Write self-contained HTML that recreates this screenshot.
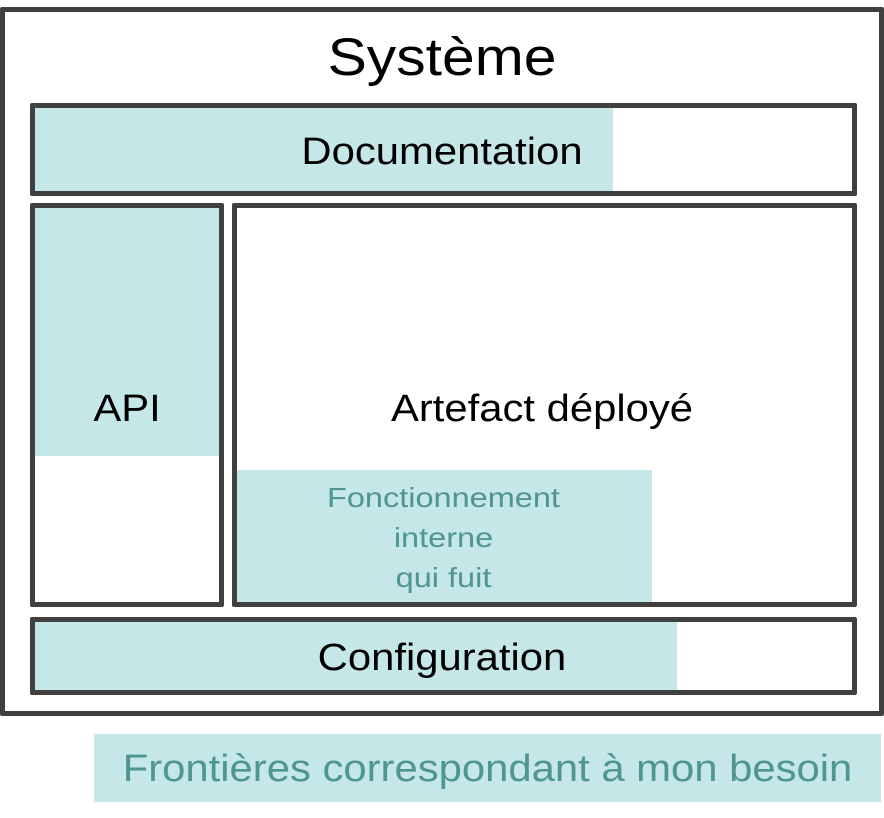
<!DOCTYPE html>
<html><head><meta charset="utf-8"><style>
body{margin:0;width:884px;height:818px;background:#fff;position:relative;overflow:hidden;font-family:"Liberation Sans",sans-serif}
.b{position:absolute;box-sizing:border-box;border:5px solid #404040;border-radius:2px}
.f{position:absolute;background:#c5e7e7}
.t{position:absolute;text-align:center;white-space:nowrap;transform:scaleX(1.1)}
</style></head><body>
<div class="b" style="left:0;top:7px;width:884px;height:709px"></div>
<div class="t" style="left:0;width:884px;top:26px;font-size:53px;line-height:64px;transform:scaleX(1.11)">Système</div>

<div class="f" style="left:35px;top:108px;width:578px;height:83px"></div>
<div class="b" style="left:30px;top:103px;width:827px;height:93px"></div>
<div class="t" style="left:30px;width:824px;top:129px;font-size:38px;line-height:46px">Documentation</div>

<div class="f" style="left:35px;top:208px;width:184px;height:248px"></div>
<div class="b" style="left:30px;top:203px;width:194px;height:404px"></div>
<div class="t" style="left:30px;width:194px;top:386px;font-size:38px;line-height:46px">API</div>

<div class="f" style="left:237px;top:470px;width:415px;height:134px"></div>
<div class="b" style="left:232px;top:203px;width:625px;height:404px"></div>
<div class="t" style="left:232px;width:620px;top:386px;font-size:38px;line-height:46px">Artefact déployé</div>
<div class="t" style="left:237px;width:413px;top:478px;font-size:28px;line-height:40px;color:#4f9590;transform:scaleX(1.16)">Fonctionnement<br>interne<br>qui fuit</div>

<div class="f" style="left:35px;top:622px;width:642px;height:68px"></div>
<div class="b" style="left:30px;top:617px;width:827px;height:78px"></div>
<div class="t" style="left:30px;width:824px;top:635px;font-size:38px;line-height:46px">Configuration</div>

<div class="f" style="left:94px;top:734px;width:787px;height:68px"></div>
<div class="t" style="left:94px;width:787px;top:746px;font-size:38px;line-height:46px;color:#4f9590">Frontières correspondant à mon besoin</div>
</body></html>
